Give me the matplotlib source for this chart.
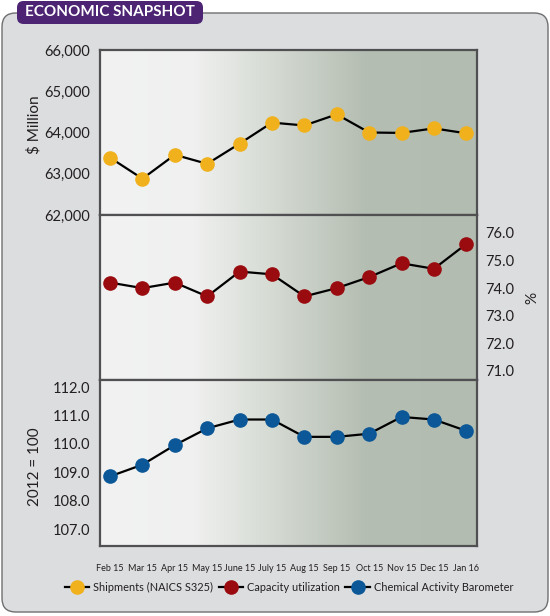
import numpy as np
import matplotlib.pyplot as plt
from matplotlib.patches import FancyBboxPatch
from matplotlib.colors import LinearSegmentedColormap
from matplotlib.lines import Line2D
from matplotlib.ticker import FuncFormatter

plt.rcParams['font.family'] = ['Lato', 'DejaVu Sans']

# data
months = ['Feb 15', 'Mar 15', 'Apr 15', 'May 15', 'June 15', 'July 15',
          'Aug 15', 'Sep 15', 'Oct 15', 'Nov 15', 'Dec 15', 'Jan 16']
shipments = [63390, 62880, 63460, 63240, 63730, 64240,
             64170, 64440, 64000, 63990, 64100, 63980]
capacity = [74.2, 74.0, 74.2, 73.7, 74.6, 74.5,
            73.7, 74.0, 74.4, 74.9, 74.7, 75.6]
cab = [108.86, 109.27, 109.96, 110.55, 110.86, 110.86,
       110.25, 110.25, 110.36, 110.95, 110.86, 110.46]

ship_ticks = [62000, 63000, 64000, 65000, 66000]
cap_ticks = [71.0, 72.0, 73.0, 74.0, 75.0, 76.0]
cab_ticks = [107.0, 108.0, 109.0, 110.0, 111.0, 112.0]

YELLOW = '#f0b11d'
RED = '#9a0b0f'
BLUE = '#0b5797'
FRAME = '#505052'

W, H = 550, 616
fig = plt.figure(figsize=(W / 100, H / 100), dpi=100)
fig.patch.set_facecolor('white')


def fx(px):
    return px / W


def fy(py):
    return 1 - py / H


# outer panel (behind the axes)
panel = FancyBboxPatch((fx(2), fy(612)), fx(546), (612 - 13) / H,
                       boxstyle='round,pad=0,rounding_size=0.025',
                       transform=fig.transFigure, facecolor='#dcdddf',
                       edgecolor='#6e6f71', linewidth=1.0, mutation_aspect=W / H,
                       zorder=-2)
fig.patches.append(panel)

# title badge
badge = FancyBboxPatch((fx(17), fy(24)), fx(186), 23 / H,
                       boxstyle='round,pad=0,rounding_size=0.012',
                       transform=fig.transFigure, facecolor='#4d2473',
                       edgecolor='none', mutation_aspect=W / H, zorder=-1)
fig.patches.append(badge)
fig.text(fx(110), fy(12.5), 'ECONOMIC SNAPSHOT', color='white', fontsize=11,
         fontweight='bold', ha='center', va='center')

grad = LinearSegmentedColormap.from_list(
    'bg', [(0.0, '#f2f2f3'), (0.25, '#eff0ef'), (0.45, '#d6dbd4'),
           (0.7, '#b5beb3'), (1.0, '#b2bcb0')])

x = np.arange(len(months))
left, width = fx(100), fx(477) - fx(100)
tops = [(50, 215), (215, 380), (380, 546)]
axes = []
for t, b in tops:
    ax = fig.add_axes([left, fy(b), width, (b - t) / H])
    axes.append(ax)

for ax in axes:
    ax.set_xlim(-0.31, 11.33)
    ax.imshow(np.linspace(0, 1, 256).reshape(1, -1), cmap=grad, aspect='auto',
              extent=[-0.31, 11.33, -1e6, 1e6], zorder=0)
    for s in ax.spines.values():
        s.set_color(FRAME)
        s.set_linewidth(1.6)
    ax.tick_params(length=0, labelsize=10.5, colors='#231f20')
    ax.set_xticks(x)
    ax.tick_params(axis='x', labelbottom=False)

ax1, ax2, ax3 = axes

# shipments
ax1.plot(x, shipments, color='black', lw=1.6, marker='o', ms=9.5,
         mfc=YELLOW, mec=YELLOW, zorder=3)
ax1.set_ylim(62000, 66000)
ax1.set_yticks(ship_ticks)
ax1.yaxis.set_major_formatter(FuncFormatter(lambda v, p: f'{v:,.0f}'))
ax1.tick_params(axis='y', pad=7)
ax1.set_ylabel('$ Million', fontsize=11, color='#231f20')

# capacity utilization
ax2.plot(x, capacity, color='black', lw=1.6, marker='o', ms=9.5,
         mfc=RED, mec=RED, zorder=3)
ax2.set_ylim(70.67, 76.65)
ax2.set_yticks(cap_ticks)
ax2.yaxis.set_major_formatter(FuncFormatter(lambda v, p: f'{v:.1f}'))
ax2.yaxis.tick_right()
ax2.yaxis.set_label_position('right')
ax2.tick_params(axis='y', pad=6)
ax2.set_ylabel('%', fontsize=11, labelpad=8, color='#231f20')

# chemical activity barometer
ax3.plot(x, cab, color='black', lw=1.6, marker='o', ms=9.5,
         mfc=BLUE, mec=BLUE, zorder=3)
ax3.set_ylim(106.41, 112.25)
ax3.set_yticks(cab_ticks)
ax3.yaxis.set_major_formatter(FuncFormatter(lambda v, p: f'{v:.1f}'))
ax3.tick_params(axis='y', pad=7)
ax3.set_ylabel('2012 = 100', fontsize=11, color='#231f20')
ax3.set_xticklabels(months)
ax3.tick_params(axis='x', labelbottom=True, labelsize=6.5, pad=13)

ax1.yaxis.set_label_coords(-0.155, 0.55)
ax3.yaxis.set_label_coords(-0.155, 0.476)

handles = [Line2D([], [], color='black', lw=1.6, marker='o', ms=9.5, mfc=c, mec=c)
           for c in (YELLOW, RED, BLUE)]
fig.legend(handles, ['Shipments (NAICS S325)', 'Capacity utilization',
                     'Chemical Activity Barometer'],
           loc='center', bbox_to_anchor=(fx(289), fy(587)), ncol=3,
           frameon=False, fontsize=7.9, handlelength=2.2, handletextpad=0.4,
           columnspacing=0.5, labelcolor='#231f20')

fig.savefig('out.png', dpi=100)
